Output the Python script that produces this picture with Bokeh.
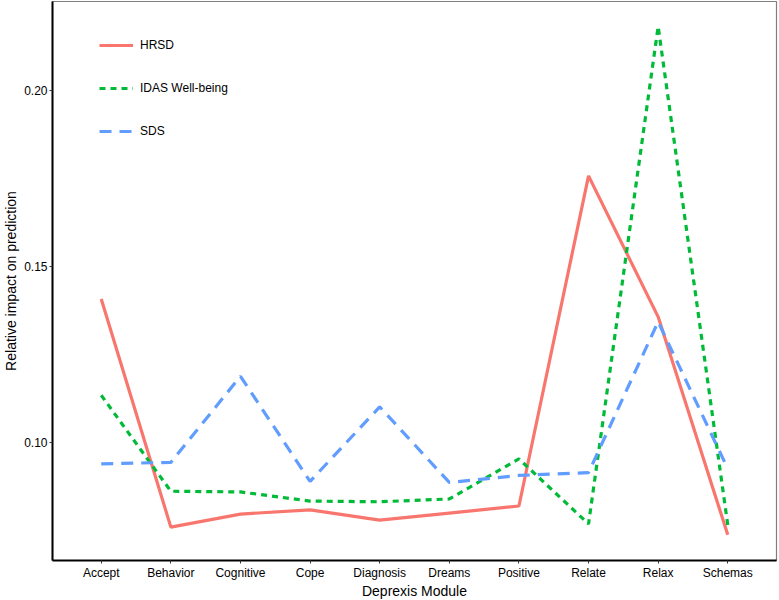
from bokeh.plotting import figure
from bokeh.models import (FactorRange, Range1d, FixedTicker, PrintfTickFormatter,
                          Legend, LegendItem)
from bokeh.embed import file_html
from bokeh.resources import INLINE

modules = ["Accept", "Behavior", "Cognitive", "Cope", "Diagnosis",
           "Dreams", "Positive", "Relate", "Relax", "Schemas"]
hrsd = [0.1408, 0.0759, 0.0796, 0.0808, 0.0779, 0.0799, 0.0819, 0.1758, 0.1357, 0.0737]
idas = [0.1134, 0.0861, 0.0859, 0.0833, 0.0831, 0.0839, 0.0953, 0.0768, 0.2183, 0.0765]
sds = [0.0939, 0.0943, 0.1188, 0.0889, 0.1101, 0.0886, 0.0906, 0.0914, 0.1343, 0.0925]
y_ticks = [0.10, 0.15, 0.20]
series_names = ["HRSD", "IDAS Well-being", "SDS"]

FONT = "Liberation Sans"
FW, FH = 724, 559

p = figure(x_range=FactorRange(*modules, range_padding=0.2, range_padding_units="absolute"),
           y_range=Range1d(0.0664, 0.2254),
           frame_width=FW, frame_height=FH,
           min_border_left=45, min_border_right=2, min_border_top=1, min_border_bottom=34,
           output_backend="svg", toolbar_location=None)

p.xgrid.grid_line_color = None
p.ygrid.grid_line_color = None
p.outline_line_color = "#7f7f7f"
p.outline_line_width = 1.2
p.background_fill_color = "white"
p.border_fill_color = "white"

r1 = p.line(modules, hrsd, line_color="#F8766D", line_width=3.2)
r2 = p.line(modules, idas, line_color="#00BA38", line_width=3.2, line_dash="6 5")
r3 = p.line(modules, sds, line_color="#619CFF", line_width=3.2, line_dash="12 8")

for ax in (p.xaxis[0], p.yaxis[0]):
    ax.axis_line_color = "black"
    ax.axis_line_width = 2
    ax.major_tick_line_color = "#333333"
    ax.major_tick_in = 0
    ax.major_tick_out = 3
    ax.minor_tick_line_color = None
    ax.major_label_text_font = FONT
    ax.major_label_text_font_size = "12px"
    ax.major_label_text_color = "black"
    ax.axis_label_text_font = FONT
    ax.axis_label_text_font_size = "14px"
    ax.axis_label_text_font_style = "normal"
    ax.axis_label_text_color = "black"
    ax.major_label_standoff = 2
    ax.axis_label_standoff = 2

p.xaxis.axis_label_standoff = 0
p.xaxis.axis_label = "Deprexis Module"
p.yaxis.axis_label = "Relative impact on prediction"
p.yaxis.ticker = FixedTicker(ticks=y_ticks)
p.yaxis.formatter = PrintfTickFormatter(format="%.2f")

gh, sp = 20, 23
leg_h = 3 * gh + 2 * sp
legend = Legend(items=[LegendItem(label=series_names[0], renderers=[r1]),
                       LegendItem(label=series_names[1], renderers=[r2]),
                       LegendItem(label=series_names[2], renderers=[r3])],
                location=(47, FH - 33.5 - leg_h),
                padding=0, margin=0, spacing=sp,
                glyph_width=34, glyph_height=gh, label_height=gh,
                label_standoff=7, label_text_font=FONT, label_text_font_size="12px",
                label_text_color="black",
                border_line_alpha=0, background_fill_alpha=0)
p.add_layout(legend, "center")

open("out.html", "w").write(file_html(p, INLINE))
